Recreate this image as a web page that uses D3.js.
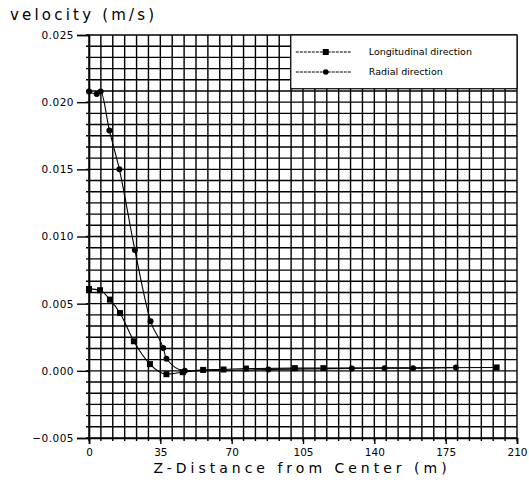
<!DOCTYPE html>
<html>
<head>
<meta charset="utf-8">
<script src="https://cdn.jsdelivr.net/npm/d3@7"></script>
<style>
  body { margin: 0; background: #fff; }
  text { font-family: "DejaVu Sans", sans-serif; fill: #000; }
</style>
</head>
<body>
<div id="chart"></div>
<script>
// Data
var xTicks = [0, 35, 70, 105, 140, 175, 210];
var yTicks = [-0.005, 0, 0.005, 0.010, 0.015, 0.020, 0.025];

var longX = [0, 5.4, 10.3, 15.2, 22, 29.9, 38, 46, 56, 66, 77, 101, 115, 200];
var longY = [0.0061, 0.0060, 0.0053, 0.0043, 0.0022, 0.0005, -0.00025, -0.0001, 0.00007, 0.0001, 0.00017, 0.0002, 0.0002, 0.00025];

var radX = [0, 3.8, 5.7, 10, 14.9, 22.5, 30.2, 36.4, 38, 47, 88, 129, 145, 159, 180];
var radY = [0.0208, 0.0206, 0.0208, 0.0179, 0.0150, 0.0090, 0.0037, 0.0017, 0.0009, 0.0000, 0.0001, 0.00018, 0.0002, 0.0002, 0.00025];

var seriesNames = ["Longitudinal direction", "Radial direction"];

// Dimensions
var margin = { top: 35, right: 12, bottom: 46, left: 89 },
  width = 529 - margin.left - margin.right,
  height = 484 - margin.top - margin.bottom;

var svg = d3.select("#chart")
  .append("svg")
  .attr("width", 529)
  .attr("height", 484);

var g = svg.append("g")
  .attr("transform", "translate(" + margin.left + "," + margin.top + ")");

var x = d3.scaleLinear().domain([0, 210]).range([0, width]);
var y = d3.scaleLinear().domain([-0.005, 0.025]).range([height, 0]);

// Grid: 36 divisions each way
var gx = d3.range(0, 37).map(i => i * 210 / 36);
var gy = d3.range(0, 37).map(i => -0.005 + i * 0.03 / 36);

g.selectAll(".vgrid")
  .data(gx)
  .enter()
  .append("line")
  .attr("x1", d => x(d)).attr("x2", d => x(d))
  .attr("y1", 0).attr("y2", height + 3)
  .attr("stroke", "#000")
  .attr("stroke-width", 1.4);

g.selectAll(".hgrid")
  .data(gy)
  .enter()
  .append("line")
  .attr("x1", -3).attr("x2", width)
  .attr("y1", d => y(d)).attr("y2", d => y(d))
  .attr("stroke", "#000")
  .attr("stroke-width", 1.4);

// Axes
var xAxis = g.append("g")
  .attr("transform", "translate(0," + height + ")")
  .call(d3.axisBottom(x).tickValues(xTicks).tickSize(6).tickPadding(5).tickFormat(d3.format("d")));
xAxis.select(".domain").attr("stroke-width", 1.6);
xAxis.selectAll("line").attr("stroke-width", 1.4);
xAxis.selectAll("text").style("font-size", "10.5px");

var yAxis = g.append("g")
  .call(d3.axisLeft(y).tickValues(yTicks).tickSize(12).tickPadding(3).tickFormat(d3.format(".3f")));
yAxis.select(".domain").attr("stroke-width", 1.6);
yAxis.selectAll("line").attr("stroke-width", 1.4);
yAxis.selectAll("text").style("font-size", "10.5px").style("letter-spacing", "0.5px");

// Legend box (covers the grid)
var lg = g.append("g").attr("transform", "translate(" + (x(99)) + ",0)");
lg.append("rect")
  .attr("x", 0).attr("y", 0)
  .attr("width", width - x(99))
  .attr("height", y(0.021) - y(0.025))
  .attr("fill", "#fff")
  .attr("stroke", "#000")
  .attr("stroke-width", 1.2);

// Lines
var line = d3.line()
  .x(d => x(d[0]))
  .y(d => y(d[1]))
  .curve(d3.curveMonotoneX);

var longData = longX.map((d, i) => [d, longY[i]]);
var radData = radX.map((d, i) => [d, radY[i]]);

g.append("path")
  .datum(longData)
  .attr("d", line)
  .attr("fill", "none")
  .attr("stroke", "#000")
  .attr("stroke-width", 1.1);

g.append("path")
  .datum(radData)
  .attr("d", line)
  .attr("fill", "none")
  .attr("stroke", "#000")
  .attr("stroke-width", 1.1);

g.selectAll(".sq")
  .data(longData)
  .enter()
  .append("rect")
  .attr("x", d => x(d[0]) - 3)
  .attr("y", d => y(d[1]) - 3)
  .attr("width", 6)
  .attr("height", 6)
  .attr("fill", "#000");

g.selectAll(".dot")
  .data(radData)
  .enter()
  .append("circle")
  .attr("cx", d => x(d[0]))
  .attr("cy", d => y(d[1]))
  .attr("r", 3)
  .attr("fill", "#000");

// Legend entries
seriesNames.forEach(function (name, i) {
  var yy = 17 + i * 20;
  lg.append("line")
    .attr("x1", 5).attr("x2", 60)
    .attr("y1", yy).attr("y2", yy)
    .attr("stroke", "#000")
    .attr("stroke-width", 1)
    .attr("stroke-dasharray", "3,1");
  if (i === 0) {
    lg.append("rect").attr("x", 32).attr("y", yy - 3).attr("width", 6).attr("height", 6).attr("fill", "#000");
  } else {
    lg.append("circle").attr("cx", 35).attr("cy", yy).attr("r", 2.8).attr("fill", "#000");
  }
  lg.append("text")
    .attr("x", 78)
    .attr("y", yy)
    .attr("dy", "0.35em")
    .style("font-size", "9.5px")
    .text(name);
});

// Titles
svg.append("text")
  .attr("x", 10)
  .attr("y", 20)
  .style("font-size", "15px")
  .style("letter-spacing", "3.2px")
  .text("velocity (m/s)");

svg.append("text")
  .attr("x", 302)
  .attr("y", 473)
  .attr("text-anchor", "middle")
  .style("font-size", "14px")
  .style("letter-spacing", "4px")
  .text("Z-Distance from Center (m)");
</script>
</body>
</html>
